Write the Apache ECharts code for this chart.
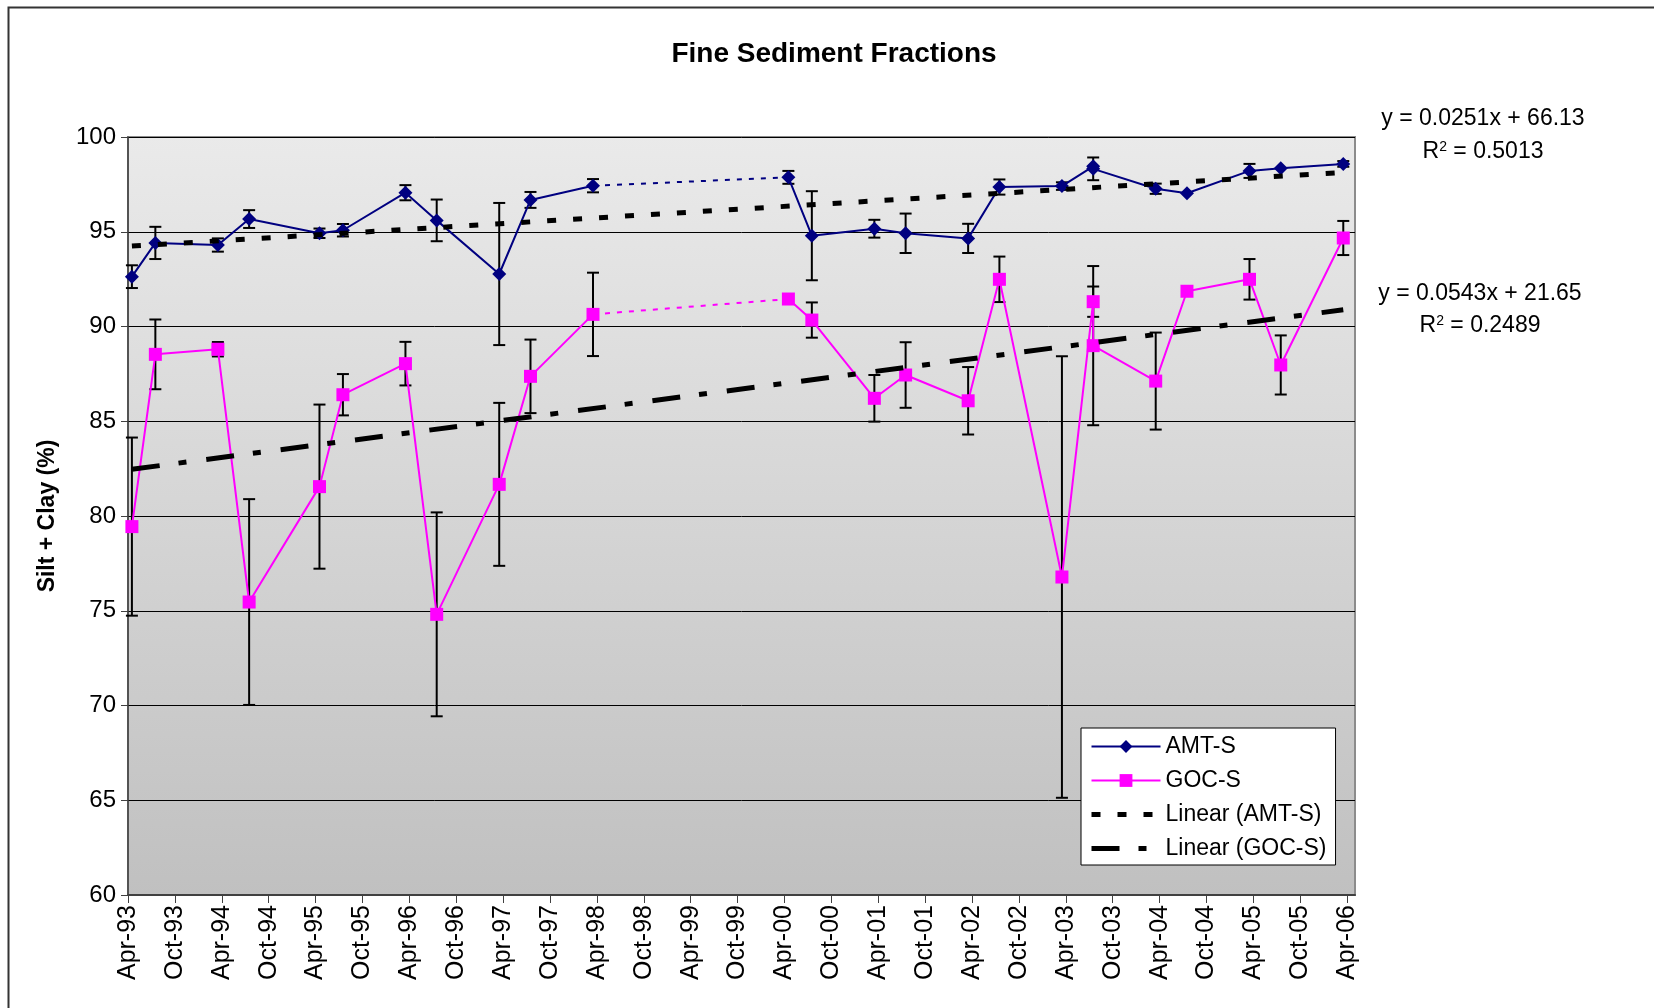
<!DOCTYPE html>
<html>
<head>
<meta charset="utf-8">
<title>Fine Sediment Fractions</title>
<script src="https://cdn.jsdelivr.net/npm/echarts@6/dist/echarts.min.js"></script>
<style>
  html, body { margin: 0; padding: 0; background: #fff; }
  #chart { width: 1654px; height: 1008px; }
</style>
</head>
<body>
<div id="chart"></div>
<script>
// sampling dates (year-month), same for both stations; two samples in Jul-03
const sampleDates = ['1993-04', '1993-07', '1994-03', '1994-07', '1995-04', '1995-07', '1996-03', '1996-07',
  '1997-03', '1997-07', '1998-03', '2000-04', '2000-07', '2001-03', '2001-07', '2002-03', '2002-07',
  '2003-03', '2003-07', '2003-07', '2004-03', '2004-07', '2005-03', '2005-07', '2006-03'];

const amtValues = [92.63, 94.41, 94.30, 95.67, 94.92, 95.08, 97.06, 95.60, 92.77, 96.68, 97.43, 97.87, 94.79,
  95.16, 94.92, 94.65, 97.36, 97.41, 98.45, 98.32, 97.27, 97.03, 98.21, 98.35, 98.58];
const amtErrors = [0.60, 0.85, 0.35, 0.47, 0.25, 0.33, 0.40, 1.10, 3.75, 0.42, 0.35, 0.34, 2.35,
  0.47, 1.04, 0.77, 0.40, 0.20, 0, 0.60, 0.27, 0, 0.37, 0, 0.15];

const gocValues = [79.44, 88.53, 88.80, 75.46, 81.55, 86.40, 88.04, 74.81, 81.67, 87.37, 90.64, 91.45, 90.34,
  86.21, 87.44, 86.08, 92.49, 76.78, 91.31, 88.99, 87.12, 91.86, 92.49, 87.97, 94.67];
const gocErrors = [4.70, 1.84, 0.38, 5.43, 4.33, 1.09, 1.15, 5.38, 4.30, 1.94, 2.20, 0, 0.93,
  1.23, 1.73, 1.78, 1.20, 11.65, 0.80, 4.20, 2.56, 0, 1.07, 1.56, 0.90];

// last sample before the 1998-2000 gap (bridged with a dotted line)
const gapIndex = 10;

// Excel linear trendlines, x counted in months (Apr-93 = 1120)
const amtTrend = { slope: 0.0251, intercept: 66.13, r2: '0.5013' };
const gocTrend = { slope: 0.0543, intercept: 21.65, r2: '0.2489' };
const trendOrigin = 1120;

const tickLabels = ['Apr-93', 'Oct-93', 'Apr-94', 'Oct-94', 'Apr-95', 'Oct-95', 'Apr-96', 'Oct-96', 'Apr-97',
  'Oct-97', 'Apr-98', 'Oct-98', 'Apr-99', 'Oct-99', 'Apr-00', 'Oct-00', 'Apr-01', 'Oct-01', 'Apr-02',
  'Oct-02', 'Apr-03', 'Oct-03', 'Apr-04', 'Oct-04', 'Apr-05', 'Oct-05', 'Apr-06'];

const FONT = '"Liberation Sans", Arial, sans-serif';
const NAVY = '#000080';
const PINK = '#ff00ff';

// months since Apr-93
const monthIdx = sampleDates.map(d => {
  const [y, m] = d.split('-').map(Number);
  return (y - 1993) * 12 + (m - 4);
});
// points sit in the middle of their month slot
const xPos = monthIdx.map(i => i + 0.5);

function lineData(values) {
  const out = [];
  values.forEach((v, i) => {
    out.push([xPos[i], v]);
    if (i === gapIndex) out.push([(xPos[i] + xPos[i + 1]) / 2, null]);
  });
  return out;
}

function trendData(t) {
  const first = 0, last = monthIdx.length - 1;
  return [first, last].map(i => [xPos[i], t.slope * (trendOrigin + monthIdx[i]) + t.intercept]);
}

function errorSeries(values, errors) {
  return {
    type: 'custom',
    z: 2,
    silent: true,
    data: values.map((v, i) => [xPos[i], v - errors[i], v + errors[i]]).filter((d, i) => errors[i] > 0),
    encode: { x: 0, y: [1, 2] },
    renderItem: (params, api) => {
      const lo = api.coord([api.value(0), api.value(1)]);
      const hi = api.coord([api.value(0), api.value(2)]);
      const half = 6;
      const style = { stroke: '#000', lineWidth: 2 };
      return {
        type: 'group',
        children: [
          { type: 'line', shape: { x1: hi[0], y1: hi[1], x2: lo[0], y2: lo[1] }, style },
          { type: 'line', shape: { x1: hi[0] - half, y1: hi[1], x2: hi[0] + half, y2: hi[1] }, style },
          { type: 'line', shape: { x1: lo[0] - half, y1: lo[1], x2: lo[0] + half, y2: lo[1] }, style }
        ]
      };
    }
  };
}

function gapSeries(values, color) {
  return {
    type: 'line',
    z: 2,
    silent: true,
    symbol: 'none',
    data: [[xPos[gapIndex], values[gapIndex]], [xPos[gapIndex + 1], values[gapIndex + 1]]],
    lineStyle: { color, width: 2, type: [5, 7] }
  };
}

const chart = echarts.init(document.getElementById('chart'));

const eqStyle = { fontSize: 23, fontFamily: FONT, fill: '#000', align: 'center', verticalAlign: 'middle' };
const r2Rich = {
  b: { fontSize: 23, fontFamily: FONT, fill: '#000' },
  s: { fontSize: 14, fontFamily: FONT, fill: '#000', verticalAlign: 'top' }
};

chart.setOption({
  animation: false,
  textStyle: { fontFamily: FONT },
  title: {
    text: 'Fine Sediment Fractions',
    left: 829,
    textAlign: 'center',
    top: 35,
    textStyle: { fontSize: 28, fontWeight: 'bold', color: '#000', fontFamily: FONT }
  },
  grid: {
    left: 128, right: 299, top: 137, bottom: 113,
    show: true,
    borderColor: '#8c8c8c',
    borderWidth: 2,
    backgroundColor: {
      type: 'linear', x: 0, y: 0, x2: 0, y2: 1,
      colorStops: [{ offset: 0, color: '#eaeaea' }, { offset: 1, color: '#c0c0c0' }]
    },
    outerBoundsMode: 'none'
  },
  legend: {
    orient: 'vertical',
    left: 1081, top: 728,
    backgroundColor: '#fff',
    borderColor: '#000',
    borderWidth: 1,
    borderRadius: 0,
    padding: [7, 9, 5, 8],
    itemWidth: 69, itemHeight: 16, itemGap: 11,
    selectedMode: false,
    textStyle: { fontSize: 23, color: '#000', fontFamily: FONT },
    data: [
      { name: 'AMT-S', lineStyle: { width: 2 } },
      { name: 'GOC-S', lineStyle: { width: 2 } },
      { name: 'Linear (AMT-S)', lineStyle: { width: 5 }, itemStyle: { opacity: 0 } },
      { name: 'Linear (GOC-S)', lineStyle: { width: 5 }, itemStyle: { opacity: 0 } }
    ]
  },
  xAxis: {
    type: 'value',
    min: 0, max: 157, interval: 6,
    axisLine: { show: true, lineStyle: { color: '#404040', width: 2 } },
    axisTick: { show: true, length: 8, lineStyle: { color: '#404040', width: 1 },
      customValues: tickLabels.map((_, i) => i * 6) },
    axisLabel: {
      rotate: 90, margin: 10, fontSize: 25, color: '#000', fontFamily: FONT,
      customValues: tickLabels.map((_, i) => i * 6),
      formatter: v => tickLabels[Math.round(v / 6)] || ''
    },
    splitLine: { show: false }
  },
  yAxis: {
    type: 'value',
    min: 60, max: 100, interval: 5,
    name: 'Silt + Clay (%)',
    nameLocation: 'middle',
    nameGap: 69,
    nameTextStyle: { fontSize: 23, fontWeight: 'bold', color: '#000', fontFamily: FONT },
    axisLine: { show: true, lineStyle: { color: '#404040', width: 1.5 } },
    axisTick: { show: true, length: 7, lineStyle: { color: '#404040', width: 1 } },
    axisLabel: { margin: 12, fontSize: 24, color: '#000', fontFamily: FONT },
    splitLine: { show: true, lineStyle: { color: '#000', width: 1 } }
  },
  graphic: [
    { type: 'rect', silent: true, z: -10, shape: { x: 8.5, y: 7.5, width: 1700, height: 1100 },
      style: { fill: null, stroke: '#333', lineWidth: 2 } },
    { type: 'text', x: 1483, y: 119, style: Object.assign({ text: `y = ${amtTrend.slope}x + ${amtTrend.intercept}` }, eqStyle) },
    { type: 'text', x: 1483, y: 152, style: Object.assign({}, eqStyle, { text: `{b|R}{s|2}{b| = ${amtTrend.r2}}`, rich: r2Rich }) },
    { type: 'text', x: 1480, y: 294, style: Object.assign({ text: `y = ${gocTrend.slope}x + ${gocTrend.intercept}` }, eqStyle) },
    { type: 'text', x: 1480, y: 326, style: Object.assign({}, eqStyle, { text: `{b|R}{s|2}{b| = ${gocTrend.r2}}`, rich: r2Rich }) }
  ],
  series: [
    {
      name: 'AMT-S', type: 'line', z: 3,
      data: lineData(amtValues),
      symbol: 'diamond', symbolSize: 14, showSymbol: true,
      itemStyle: { color: NAVY },
      lineStyle: { color: NAVY, width: 2 },
      emphasis: { disabled: true }
    },
    {
      name: 'GOC-S', type: 'line', z: 3,
      data: lineData(gocValues),
      symbol: 'rect', symbolSize: 13, showSymbol: true,
      itemStyle: { color: PINK },
      lineStyle: { color: PINK, width: 2 },
      emphasis: { disabled: true }
    },
    {
      name: 'Linear (AMT-S)', type: 'line', z: 4, silent: true,
      data: trendData(amtTrend), symbol: 'none',
      itemStyle: { color: '#000' },
      lineStyle: { color: '#000', width: 5, type: [9, 17] }
    },
    {
      name: 'Linear (GOC-S)', type: 'line', z: 4, silent: true,
      data: trendData(gocTrend), symbol: 'none',
      itemStyle: { color: '#000' },
      lineStyle: { color: '#000', width: 5, type: [28, 19, 8, 20] }
    },
    gapSeries(amtValues, NAVY),
    gapSeries(gocValues, PINK),
    errorSeries(amtValues, amtErrors),
    errorSeries(gocValues, gocErrors)
  ]
});
</script>
</body>
</html>
